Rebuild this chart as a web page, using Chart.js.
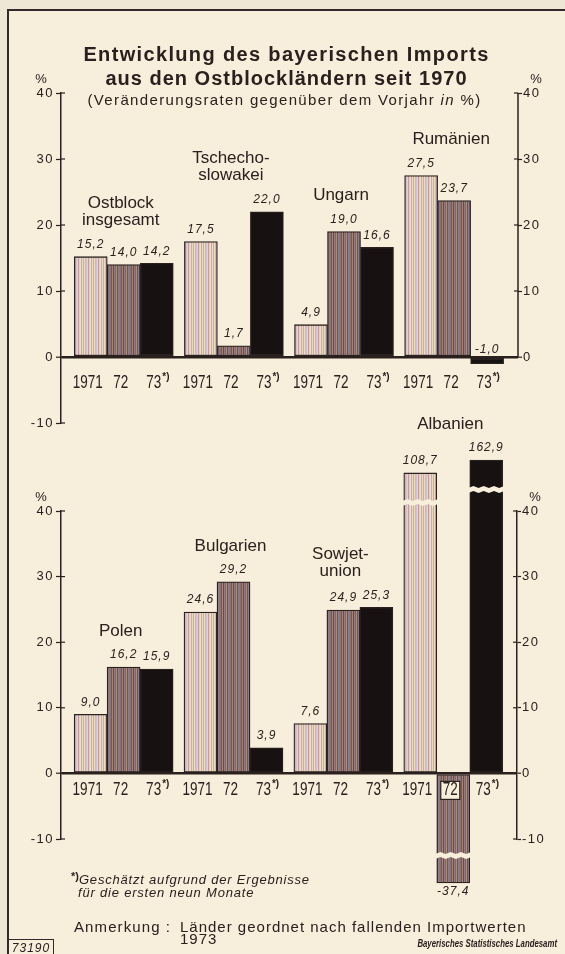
<!DOCTYPE html>
<html lang="de">
<head>
<meta charset="utf-8">
<title>Entwicklung des bayerischen Imports aus den Ostblockländern</title>
<script src="https://cdn.jsdelivr.net/npm/chart.js@4.4.1/dist/chart.umd.min.js"></script>
<style>
  html, body { margin: 0; padding: 0; }
  body { width: 565px; height: 954px; position: relative; overflow: hidden; background: #efe7d6;
         font-family: "Liberation Sans", Arial, sans-serif; color: #2a201d; }
  #rahmen { position: absolute; left: 7px; top: 9px; right: 0; bottom: 0; background: #f8eedc;
            border-left: 2px solid #35282a; border-top: 2px solid #35282a; }
  canvas { position: absolute; left: 0; top: 0; }
  .zeile { position: absolute; white-space: nowrap; }
  .titel { left: 4px; width: 565px; text-align: center; font-weight: bold; font-size: 20px;
           line-height: 24px; letter-spacing: 1px; }
  .unter { left: 2px; width: 565px; text-align: center; font-size: 15px; line-height: 18px; letter-spacing: 1.35px; }
  .fuss { font-style: italic; font-size: 13px; line-height: 14px; letter-spacing: 0.8px; }
  .stern { font-style: normal; font-weight: bold; font-size: 11px; position: relative; top: -4px; letter-spacing: 0; }
  .anm { font-size: 15px; line-height: 16px; letter-spacing: 1px; }
  #nummer { position: absolute; left: 9px; top: 939px; width: 44px; height: 17px; border: 1.5px solid #35282a;
            border-left: none; font-style: italic; font-size: 12px; line-height: 16px; text-align: center; letter-spacing: 1px; }
  #amt { position: absolute; right: 8px; top: 938px; font: italic bold 10px "Liberation Sans", Arial, sans-serif;
         transform: scaleX(0.78); transform-origin: right center; white-space: nowrap; }
</style>
</head>
<body>
<div id="rahmen"></div>
<canvas id="oben" width="565" height="954"></canvas>
<canvas id="unten" width="565" height="954"></canvas>

<div class="zeile titel" style="top:42px;letter-spacing:1.35px">Entwicklung des bayerischen Imports</div>
<div class="zeile titel" style="top:66px">aus den Ostblockländern seit 1970</div>
<div class="zeile unter" style="top:91px">(Veränderungsraten gegenüber dem Vorjahr <i>in</i> %)</div>

<div class="zeile fuss" style="left:71px;top:873px"><span class="stern">*)</span>Geschätzt aufgrund der Ergebnisse</div>
<div class="zeile fuss" style="left:78px;top:886px">für die ersten neun Monate</div>
<div class="zeile anm" style="left:74px;top:919px;letter-spacing:1.1px">Anmerkung :</div>
<div class="zeile anm" style="left:180px;top:919px">Länder geordnet nach fallenden Importwerten</div>
<div class="zeile anm" style="left:180px;top:931px">1973</div>
<div id="nummer">73190</div>
<div id="amt">Bayerisches Statistisches Landesamt</div>

<script>
// Daten
const laenderOben = [['Ostblock', 'insgesamt'], ['Tschecho-', 'slowakei'], ['Ungarn'], ['Rumänien']];
const laenderUnten = [['Polen'], ['Bulgarien'], ['Sowjet-', 'union'], ['Albanien']];
const jahre = ['1971', '72', '73'];
const oben1971 = [15.2, 17.5, 4.9, 27.5];
const oben1972 = [14.0, 1.7, 19.0, 23.7];
const oben1973 = [14.2, 22.0, 16.6, -1.0];
const unten1971 = [9.0, 24.6, 7.6, 108.7];
const unten1972 = [16.2, 29.2, 24.9, -37.4];
const unten1973 = [15.9, 3.9, 25.3, 162.9];
const achseMin = -10;
const achseMax = 40;
const achseSchritt = 10;

const tinte = '#2a201d';
const papier = '#f8eedc';

Chart.defaults.font.family = '"Liberation Sans", Arial, sans-serif';
Chart.defaults.color = tinte;

// Werte ausserhalb der Achse werden gebrochen (gestaucht) gezeichnet
const darstellen = v => {
    if (v > achseMax) return achseMax + Math.sqrt(v - achseMax) * 0.7;
    if (v < achseMin) return achseMin - Math.sqrt(achseMin - v) * 1.28;
    return v;
}

const streifen = (ctx, farben) => {
    const c = document.createElement('canvas');
    c.width = farben.length;
    c.height = 1;
    const g = c.getContext('2d');
    farben.forEach((f, i) => {
        g.fillStyle = f;
        g.fillRect(i, 0, 1, 1);
    });
    return ctx.createPattern(c, 'repeat');
}

const zickzack = (ctx, x, y, w) => {
    const l = x - w / 2;
    const n = Math.round(w / 5);
    ctx.beginPath();
    for (let k = 0; k <= n; k++) ctx.lineTo(l + k * w / n, y - 2 - (k % 2 ? 2 : 0));
    for (let k = n; k >= 0; k--) ctx.lineTo(l + k * w / n, y + 1 + (k % 2 ? 0 : 2));
    ctx.closePath();
    ctx.fillStyle = papier;
    ctx.fill();
}

const gestaucht = (ctx, t, x, y, sx) => {
    ctx.save();
    ctx.translate(x, y);
    ctx.scale(sx, 1);
    ctx.fillText(t, 0, 0);
    ctx.restore();
}

const zahl = v => v.toFixed(1).replace('.', ',');

const beschriftung = {
    id: 'beschriftung',
    beforeDraw(chart) {
        chart.ctx.letterSpacing = '1.5px';
    },
    beforeDatasetsDraw(chart) {
        chart.ctx.letterSpacing = '0px';
    },
    afterDatasetsDraw(chart, args, opts) {
        const ctx = chart.ctx;
        const area = chart.chartArea;
        const y = chart.scales.y;
        const y2 = chart.scales.y2;
        const nullY = y.getPixelForValue(0);
        const sets = chart.data.datasets;
        ctx.save();

        // Bruchstellen
        sets.forEach((ds, d) => {
            chart.getDatasetMeta(d).data.forEach((bar, i) => {
                const v = ds.werte[i];
                if (v > achseMax) zickzack(ctx, bar.x, bar.y + 30, bar.width + 3);
                if (v < achseMin) zickzack(ctx, bar.x, bar.y - 27, bar.width + 3);
            });
        });

        ctx.fillStyle = tinte;
        ctx.strokeStyle = tinte;
        if (opts.rechtsBisNull) {
            ctx.lineWidth = 1.5;
            ctx.beginPath();
            ctx.moveTo(area.right, y2.getPixelForValue(achseMax));
            ctx.lineTo(area.right, y2.getPixelForValue(0));
            ctx.stroke();
        }
        ctx.lineWidth = 1.2;
        y.ticks.forEach(t => {
            const p = y.getPixelForValue(t.value);
            ctx.beginPath(); ctx.moveTo(area.left, p); ctx.lineTo(area.left + 4, p); ctx.stroke();
        });
        y2.ticks.forEach(t => {
            const p = y2.getPixelForValue(t.value);
            ctx.beginPath(); ctx.moveTo(area.right - 4, p); ctx.lineTo(area.right, p); ctx.stroke();
        });

        ctx.textAlign = 'center';
        ctx.textBaseline = 'middle';
        ctx.font = '13px "Liberation Sans"';
        ctx.fillText('%', area.left - 20, y.getPixelForValue(achseMax) - 14);
        ctx.fillText('%', area.right + 18, y2.getPixelForValue(achseMax) - 14);

        // Werte
        ctx.font = 'italic 12px "Liberation Sans"';
        ctx.letterSpacing = '1px';
        sets.forEach((ds, d) => {
            chart.getDatasetMeta(d).data.forEach((bar, i) => {
                const v = ds.werte[i];
                let ly = bar.y - 12;
                if (v < 0) ly = v > -5 ? nullY - 7 : bar.y + 9;
                ctx.fillText(zahl(v), bar.x, ly);
            });
        });
        ctx.letterSpacing = '0px';

        // Jahre
        const jahrY = nullY + opts.jahrAbstand;
        sets.forEach((ds, d) => {
            chart.getDatasetMeta(d).data.forEach(bar => {
                const x = bar.x - 3;
                ctx.font = '18px "Liberation Sans"';
                const w = ctx.measureText(jahre[d]).width * 0.75;
                if (bar.y > jahrY - 10 && bar.base < jahrY) {
                    ctx.fillStyle = papier;
                    ctx.fillRect(x - w / 2 - 2, jahrY - 9, w + 4, 18);
                    ctx.strokeRect(x - w / 2 - 2, jahrY - 9, w + 4, 18);
                    ctx.fillStyle = tinte;
                }
                gestaucht(ctx, jahre[d], x, jahrY, 0.75);
                if (d === 2) {
                    ctx.font = 'bold 11px "Liberation Sans"';
                    ctx.textAlign = 'left';
                    gestaucht(ctx, '*)', x + w / 2 + 1, jahrY - 6, 0.9);
                    ctx.textAlign = 'center';
                }
            });
        });

        // Laendernamen
        ctx.font = '17px "Liberation Sans"';
        opts.namen.forEach((zeilen, i) => {
            const bars = sets.map((ds, d) => chart.getDatasetMeta(d).data[i]);
            const mitte = bars.reduce((s, b) => s + b.x, 0) / bars.length - 3;
            const hoch = Math.min(...bars.map(b => Math.min(b.y, b.base)));
            zeilen.forEach((z, k) => {
                ctx.fillText(z, mitte, hoch - 36 - (zeilen.length - 1 - k) * 17);
            });
        });
        ctx.restore();
    }
};

const baueChart = (id, w1971, w1972, w1973, namen, einst) => {
    const canvas = document.getElementById(id);
    const ctx = canvas.getContext('2d');
    const hell = streifen(ctx, ['#eedccb', '#d2a8a8', '#ead8c2', '#b3b3c8', '#efdcc0', '#dcb3a6', '#cfc3d2', '#ecd3b8', '#c49c9c', '#e2d1c0']);
    const dunkel = streifen(ctx, ['#8d716f', '#6a5b6b', '#a68378', '#5f4e57', '#977b7f', '#77697c', '#a88c7e', '#6d5659', '#8a7d8c', '#9a7468']);
    const reihen = [w1971, w1972, w1973];
    const fuellung = [hell, dunkel, '#171112'];
    const datasets = reihen.map((werte, d) => ({
        label: jahre[d],
        werte: werte,
        data: werte.map((v, i) => ({ x: i, y: darstellen(v) })),
        backgroundColor: fuellung[d],
        borderColor: tinte,
        borderWidth: 1.3,
        borderSkipped: false,
        barThickness: 33,
        clip: false
    }));
    const yAchse = (pos) => ({
        position: pos,
        min: achseMin,
        max: achseMax,
        afterFit: s => { s.width = 30; },
        ticks: {
            stepSize: achseSchritt,
            padding: pos === 'left' ? 2 : 1,
            color: tinte,
            font: { size: 13 }
        },
        border: { display: true, color: tinte, width: 1.5 },
        grid: {
            drawOnChartArea: pos === 'left',
            color: c => (c.tick && c.tick.value === 0) ? tinte : 'rgba(0,0,0,0)',
            lineWidth: c => (c.tick && c.tick.value === 0) ? 2.4 : 1,
            tickColor: tinte,
            tickWidth: 1.2,
            tickLength: pos === 'left' ? 5 : 4
        }
    });
    const y2 = yAchse('right');
    if (einst.rechtsBisNull) {
        y2.border.display = false;
        y2.afterBuildTicks = s => { s.ticks = s.ticks.filter(t => t.value >= 0); };
    }
    return new Chart(canvas, {
        type: 'bar',
        data: { datasets },
        options: {
            responsive: false,
            animation: false,
            devicePixelRatio: 1,
            events: [],
            layout: { padding: { left: 31, right: einst.rechts, top: einst.oben, bottom: einst.unten } },
            plugins: {
                legend: { display: false },
                tooltip: { enabled: false },
                beschriftung: { namen, jahrAbstand: einst.jahrAbstand, rechtsBisNull: einst.rechtsBisNull }
            },
            scales: {
                x: { type: 'linear', display: false, offset: false, grid: { offset: false }, min: -0.57, max: 3.58 },
                y: yAchse('left'),
                y2: y2
            }
        },
        plugins: [beschriftung]
    });
}

baueChart('oben', oben1971, oben1972, oben1973, laenderOben,
    { oben: 93, unten: 954 - 423, rechts: 17, jahrAbstand: 26, rechtsBisNull: true });
baueChart('unten', unten1971, unten1972, unten1973, laenderUnten,
    { oben: 511, unten: 954 - 839, rechts: 18, jahrAbstand: 17, rechtsBisNull: false });
</script>
</body>
</html>
